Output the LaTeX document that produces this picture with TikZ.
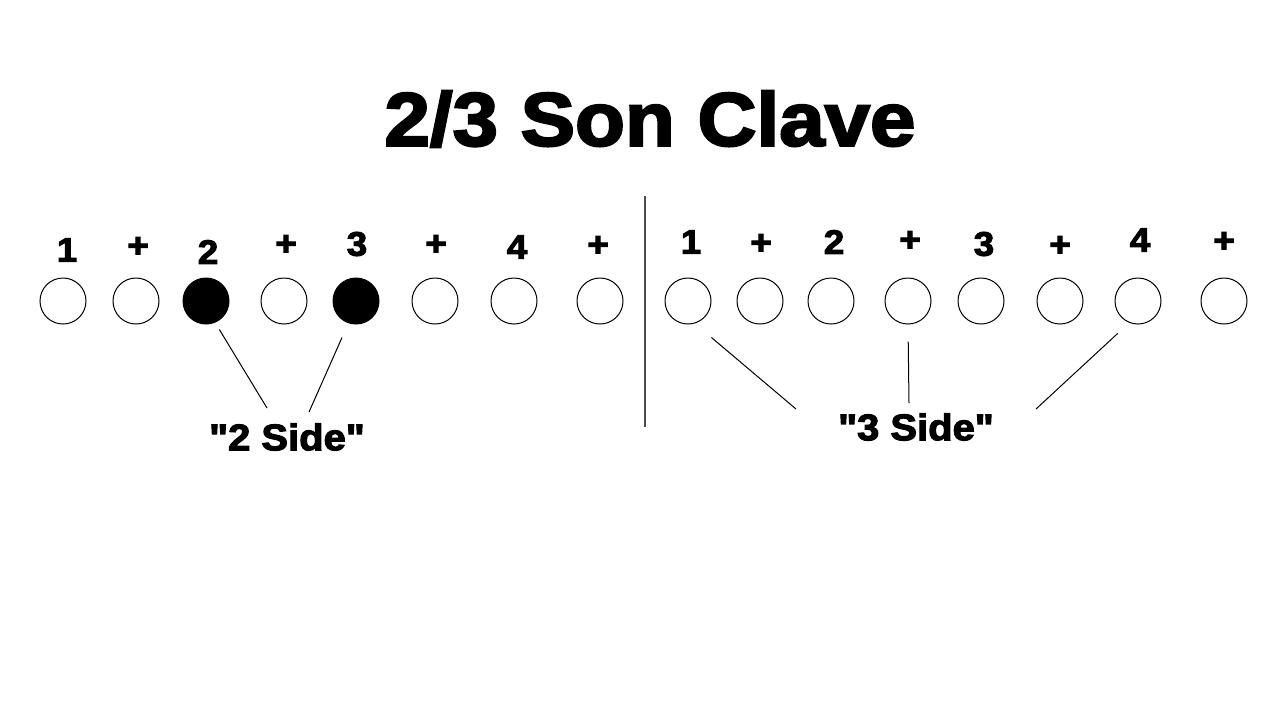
\documentclass[tikz,border=0pt]{standalone}
\usepackage{fontspec}
\newfontfamily\clavefont[FakeBold=3,FakeStretch=1.08]{Liberation Sans Bold}
\usepackage{tikz}

\begin{document}
\begin{tikzpicture}[x=0.5pt,y=-0.5pt,
	beat/.style={circle,draw,line width=0.5pt,minimum size=23pt,inner sep=0pt},
	hit/.style={beat,fill=black},
	count/.style={font=\clavefont\fontsize{17}{17}\selectfont,inner sep=0pt},
	side/.style={font=\clavefont\fontsize{18.5}{18.5}\selectfont,inner sep=0pt},
	pointer/.style={line width=0.5pt}]
	\useasboundingbox[fill=white] (0,0) rectangle (1280,720);
	\node[font=\clavefont\fontsize{37.8}{37.8}\selectfont,inner sep=0pt] (title) at (650,119) {2/3 Son Clave};

	% 2 side
	\node[beat] (l1) at (63,301) {}; \node[beat] (l2) at (136,301) {}; \node[hit] (l3) at (206,301) {}; \node[beat] (l4) at (284,301) {};
	\node[hit] (l5) at (356,301) {}; \node[beat] (l6) at (435,301) {}; \node[beat] (l7) at (514,301) {}; \node[beat] (l8) at (600,301) {};
	\node[count] (lc1) at (67,250) {1}; \node[count] (lc2) at (138,247) {+}; \node[count] (lc3) at (208,252) {2}; \node[count] (lc4) at (286,245) {+};
	\node[count] (lc5) at (357,244) {3}; \node[count] (lc6) at (436,245) {+}; \node[count] (lc7) at (517,247) {4}; \node[count] (lc8) at (598,246) {+};
	\node[side] (twoside) at (287,437) {"2 Side"};
	\coordinate (twoa) at (267,408); \coordinate (twob) at (309,412);
	\draw[pointer,shorten <=4pt] (l3.-67) -- (twoa);
	\draw[pointer,shorten <=7.8pt] (l5.-109.5) -- (twob);

	\draw[line width=0.8pt,gray!60!black] (645,196) -- (645,427);

	% 3 side
	\node[beat] (r1) at (688,301) {}; \node[beat] (r2) at (760,301) {}; \node[beat] (r3) at (831,301) {}; \node[beat] (r4) at (908,301) {};
	\node[beat] (r5) at (981,301) {}; \node[beat] (r6) at (1060,301) {}; \node[beat] (r7) at (1138,301) {}; \node[beat] (r8) at (1224,301) {};
	\node[count] (rc1) at (691,242) {1}; \node[count] (rc2) at (761,244) {+}; \node[count] (rc3) at (834,242) {2}; \node[count] (rc4) at (910,241) {+};
	\node[count] (rc5) at (984,244) {3}; \node[count] (rc6) at (1060,246) {+}; \node[count] (rc7) at (1140,240) {4}; \node[count] (rc8) at (1224,242) {+};
	\node[side] (threeside) at (916,427) {"3 Side"};
	\coordinate (threea) at (796,409); \coordinate (threeb) at (909,403); \coordinate (threec) at (1036,409);
	\draw[pointer,shorten <=10.8pt] (r1.-73.5) -- (threea);
	\draw[pointer,shorten <=8.5pt] (r4.south) -- (threeb);
	\draw[pointer,shorten <=7.8pt] (r7.-112) -- (threec);
\end{tikzpicture}
\end{document}
